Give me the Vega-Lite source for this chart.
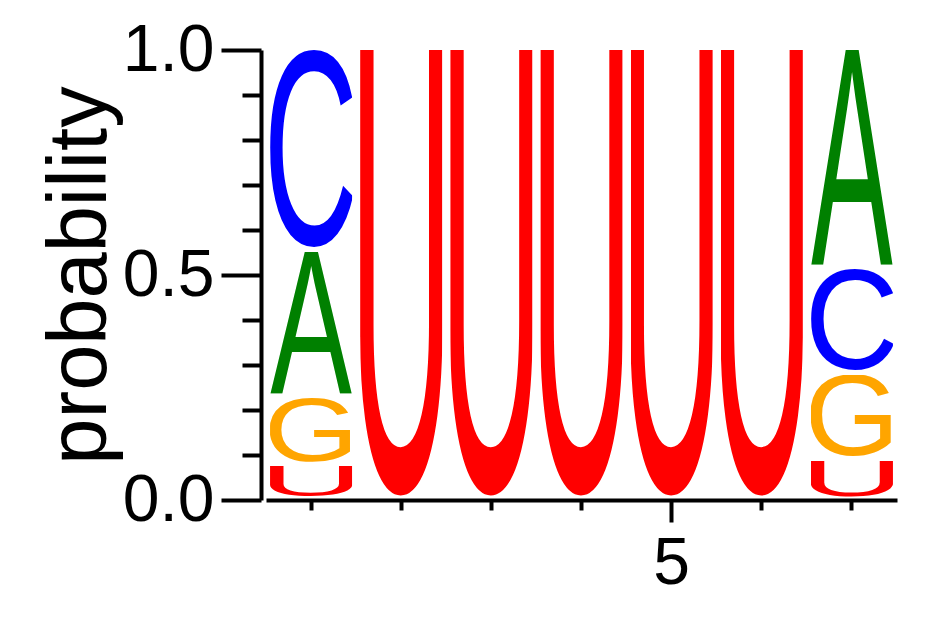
{
  "$schema": "https://vega.github.io/schema/vega-lite/v6.json",
  "width": 631,
  "height": 450,
  "autosize": "none",
  "padding": {"left": 266, "top": 50, "right": 45, "bottom": 117},
  "data": {
    "values": [
      {"pos": 1, "letter": "U", "p": 0.076},
      {"pos": 1, "letter": "G", "p": 0.151},
      {"pos": 1, "letter": "A", "p": 0.325},
      {"pos": 1, "letter": "C", "p": 0.448},
      {"pos": 2, "letter": "U", "p": 1.0},
      {"pos": 3, "letter": "U", "p": 1.0},
      {"pos": 4, "letter": "U", "p": 1.0},
      {"pos": 5, "letter": "U", "p": 1.0},
      {"pos": 6, "letter": "U", "p": 1.0},
      {"pos": 7, "letter": "U", "p": 0.087},
      {"pos": 7, "letter": "G", "p": 0.191},
      {"pos": 7, "letter": "C", "p": 0.236},
      {"pos": 7, "letter": "A", "p": 0.486}
    ]
  },
  "transform": [
    {"stack": "p", "groupby": ["pos"], "sort": [{"field": "p", "order": "ascending"}], "as": ["lo", "hi"]}
  ],
  "encoding": {
    "x": {
      "field": "pos",
      "type": "ordinal",
      "scale": {"domain": [1, 2, 3, 4, 5, 6, 7], "paddingInner": 0.09, "paddingOuter": 0.045},
      "axis": {
        "title": null,
        "labelAngle": 0,
        "labelExpr": "datum.value == 5 ? '5' : ''",
        "tickSize": {"condition": {"test": "datum.value == 5", "value": 22}, "value": 10},
        "labelPadding": 9
      }
    },
    "y": {
      "field": "hi",
      "type": "quantitative",
      "scale": {"domain": [0, 1]},
      "axis": {
        "title": "probability",
        "values": [0, 0.1, 0.2, 0.3, 0.4, 0.5, 0.6, 0.7, 0.8, 0.9, 1],
        "format": ".1f",
        "offset": 5,
        "labelExpr": "datum.value == 0 || datum.value == 0.5 || datum.value == 1 ? datum.label : ''",
        "tickSize": {"condition": {"test": "datum.value == 0 || datum.value == 0.5 || datum.value == 1", "value": 40}, "value": 19},
        "labelPadding": 7,
        "titlePadding": 0
      }
    },
    "y2": {"field": "lo"}
  },
  "layer": [
    {
      "transform": [{"filter": "datum.letter == 'U'"}],
      "mark": {"type": "image", "aspect": false, "y2Offset": -3, "url": "data:image/svg+xml,<svg xmlns='http://www.w3.org/2000/svg' viewBox='161 -1409 1156 1434' preserveAspectRatio='none'><text font-family='Liberation Sans' font-size='2048' fill='red'>U</text></svg>"}
    },
    {
      "transform": [{"filter": "datum.letter == 'G'"}],
      "mark": {"type": "image", "aspect": false, "y2Offset": -4, "url": "data:image/svg+xml,<svg xmlns='http://www.w3.org/2000/svg' viewBox='110 -1430 1366 1455' preserveAspectRatio='none'><text font-family='Liberation Sans' font-size='2048' fill='orange'>G</text></svg>"}
    },
    {
      "transform": [{"filter": "datum.letter == 'A'"}],
      "mark": {"type": "image", "aspect": false, "y2Offset": -4, "url": "data:image/svg+xml,<svg xmlns='http://www.w3.org/2000/svg' viewBox='-3 -1409 1372 1409' preserveAspectRatio='none'><text font-family='Liberation Sans' font-size='2048' fill='green'>A</text></svg>"}
    },
    {
      "transform": [{"filter": "datum.letter == 'C'"}],
      "mark": {"type": "image", "aspect": false, "y2Offset": -4, "url": "data:image/svg+xml,<svg xmlns='http://www.w3.org/2000/svg' viewBox='102 -1430 1284 1455' preserveAspectRatio='none'><text font-family='Liberation Sans' font-size='2048' fill='blue'>C</text></svg>"}
    }
  ],
  "config": {
    "view": {"stroke": null},
    "axis": {
      "grid": false,
      "domainColor": "black",
      "domainWidth": 4,
      "tickColor": "black",
      "tickWidth": 4,
      "labelFont": "Liberation Sans",
      "labelFontSize": 66,
      "labelColor": "black",
      "titleFont": "Liberation Sans",
      "titleFontSize": 83,
      "titleFontWeight": "normal",
      "titleColor": "black"
    }
  }
}
